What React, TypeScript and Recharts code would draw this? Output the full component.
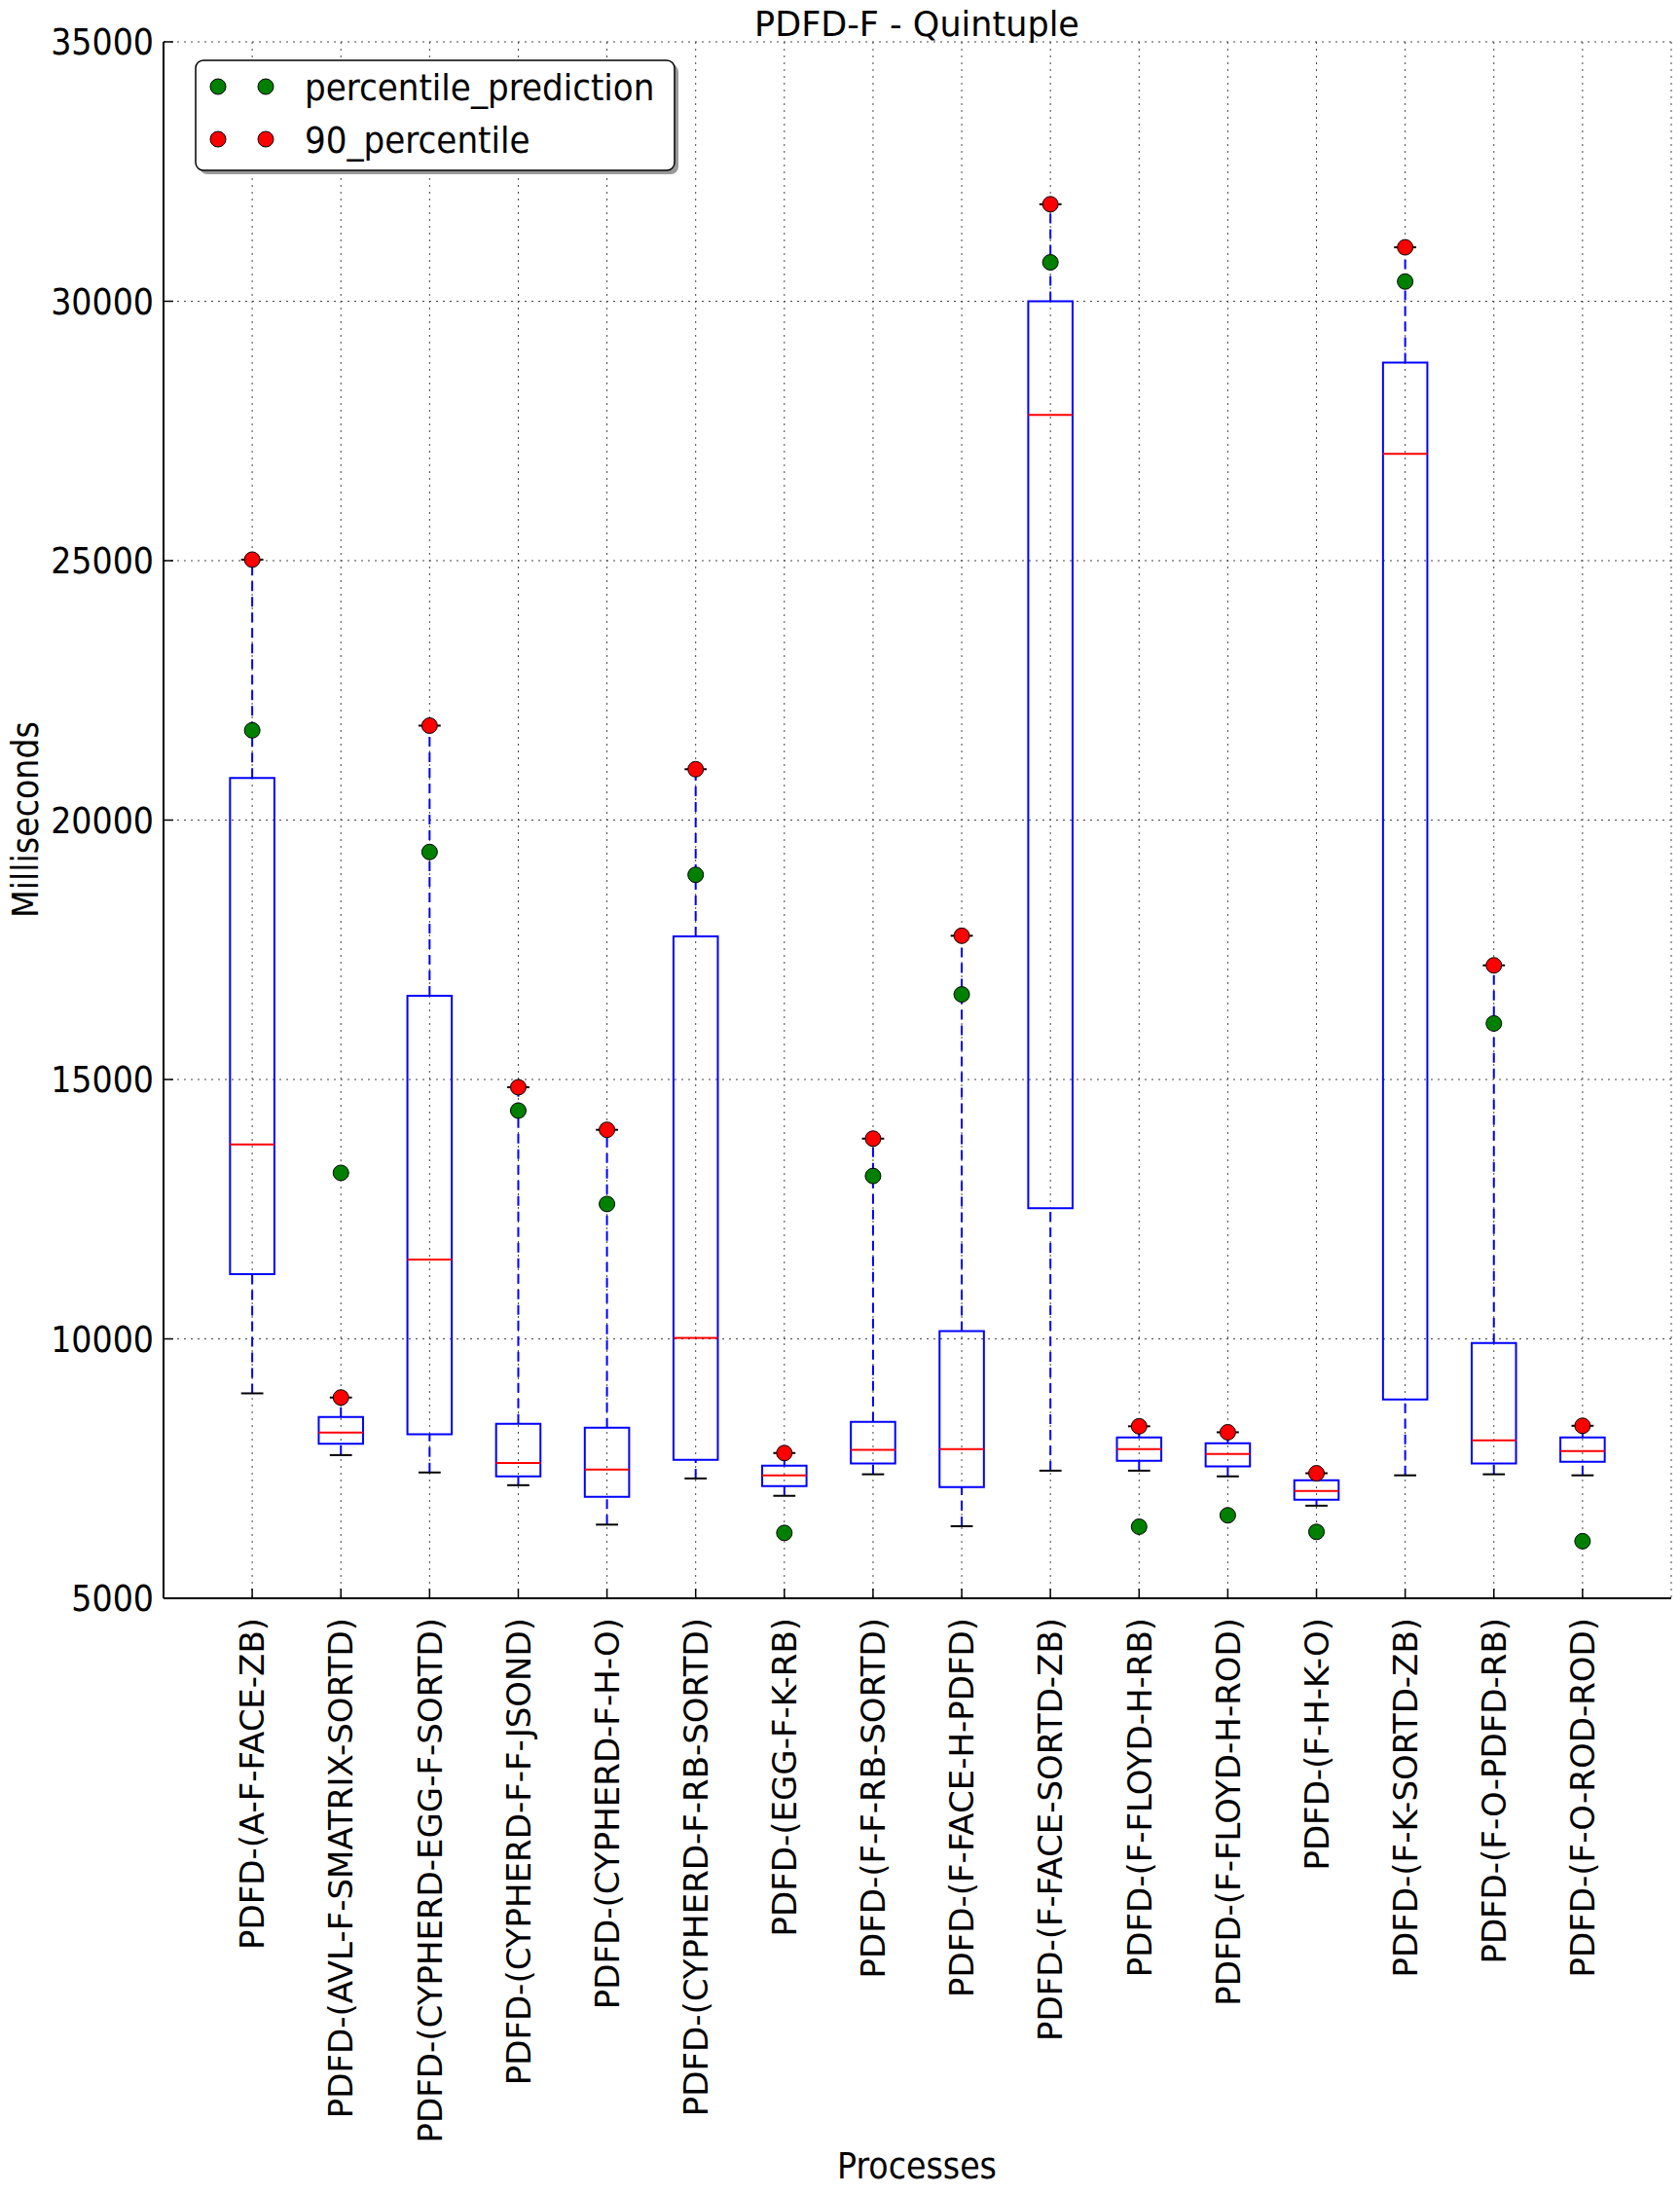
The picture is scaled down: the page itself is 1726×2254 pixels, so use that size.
import React from 'react'
import {
  ScatterChart,
  Scatter,
  XAxis,
  YAxis,
  CartesianGrid,
  ReferenceArea,
  ReferenceLine,
} from 'recharts'

const categories = [
  'PDFD-(A-F-FACE-ZB)',
  'PDFD-(AVL-F-SMATRIX-SORTD)',
  'PDFD-(CYPHERD-EGG-F-SORTD)',
  'PDFD-(CYPHERD-F-F-JSOND)',
  'PDFD-(CYPHERD-F-H-O)',
  'PDFD-(CYPHERD-F-RB-SORTD)',
  'PDFD-(EGG-F-K-RB)',
  'PDFD-(F-F-RB-SORTD)',
  'PDFD-(F-FACE-H-PDFD)',
  'PDFD-(F-FACE-SORTD-ZB)',
  'PDFD-(F-FLOYD-H-RB)',
  'PDFD-(F-FLOYD-H-ROD)',
  'PDFD-(F-H-K-O)',
  'PDFD-(F-K-SORTD-ZB)',
  'PDFD-(F-O-PDFD-RB)',
  'PDFD-(F-O-ROD-ROD)',
]

// box plot stats per process (ms)
const whiskerLow = [8950, 7760, 7425, 7180, 6420, 7310, 6975, 7390, 6390, 7460, 7460, 7350, 6785, 7370, 7390, 7370]
const q1 = [11250, 7980, 8160, 7350, 6955, 7670, 7160, 7600, 7145, 12520, 7650, 7540, 6900, 8830, 7600, 7630]
const median = [13750, 8195, 11530, 7610, 7480, 10020, 7370, 7860, 7875, 27810, 7875, 7780, 7070, 27060, 8045, 7840]
const q3 = [20810, 8495, 16615, 8365, 8290, 17760, 7555, 8400, 10150, 30000, 8100, 7990, 7275, 28820, 9920, 8100]
const whiskerHigh = [25020, 8870, 21820, 14850, 14030, 20980, 7800, 13860, 17770, 31870, 8315, 8200, 7410, 31040, 17200, 8325]

const percentilePrediction = [21730, 13200, 19385, 14400, 12600, 18945, 6260, 13140, 16640, 30750, 6380, 6600, 6280, 30380, 16080, 6100]
const percentile90 = [25020, 8870, 21820, 14850, 14030, 20980, 7800, 13860, 17770, 31870, 8315, 8200, 7410, 31040, 17200, 8325]

const yTicks = [5000, 10000, 15000, 20000, 25000, 30000, 35000]
const xTicks = categories.map((_, i) => i + 1)

const series = [
  { name: 'percentile_prediction', values: percentilePrediction, color: '#008000' },
  { name: '90_percentile', values: percentile90, color: '#ff0000' },
]

const W = 1726
const H = 2254
const condensed = "'DejaVu Sans Condensed', 'DejaVu Sans', sans-serif"
const blue = '#0000ff'

const Dot = (color: string) => (props: any) => (
  <circle cx={props.cx} cy={props.cy} r={8} fill={color} stroke="#000" strokeWidth={1} />
)

const LeftTick = ({ x, y, payload }: any) => (
  <g>
    <line x1={x} y1={y} x2={x + 10} y2={y} stroke="#000" strokeWidth={1.5} />
    <text x={x - 10} y={y} dy="0.36em" textAnchor="end" fontSize={37} fontFamily={condensed} style={{ fontStretch: 'condensed' }} fill="#000">
      {payload.value}
    </text>
  </g>
)

const RightTick = ({ x, y }: any) => (
  <line x1={x} y1={y} x2={x - 10} y2={y} stroke="#000" strokeWidth={1.5} />
)

const BottomTick = ({ x, y, payload }: any) => (
  <g>
    <line x1={x} y1={y} x2={x} y2={y - 10} stroke="#000" strokeWidth={1.5} />
    <text
      x={x}
      y={y + 20}
      dy="0.36em"
      textAnchor="end"
      transform={`rotate(-90 ${x} ${y + 20})`}
      fontSize={34}
      fontFamily="'DejaVu Sans', sans-serif"
      fill="#000"
    >
      {categories[payload.value - 1]}
    </text>
  </g>
)

const TopTick = ({ x, y }: any) => (
  <line x1={x} y1={y} x2={x} y2={y + 10} stroke="#000" strokeWidth={1.5} />
)

export default function App() {
  return (
    <div style={{ position: 'absolute', left: 0, top: 0, width: W, height: H, background: '#fff' }}>
      <ScatterChart width={W} height={H} margin={{ top: 43, right: 9, bottom: 0, left: 0 }}>
        <CartesianGrid strokeDasharray="2 5" stroke="#444" strokeWidth={1} />
        <XAxis
          dataKey="x"
          type="number"
          domain={[0, 17]}
          ticks={xTicks}
          interval={0}
          height={612}
          tickSize={0}
          tickMargin={0}
          tick={<BottomTick />}
          axisLine={{ stroke: '#000', strokeWidth: 2 }}
          tickLine={false}
        />
        <XAxis
          xAxisId="top"
          orientation="top"
          dataKey="x"
          type="number"
          domain={[0, 17]}
          ticks={xTicks}
          interval={0}
          height={0}
          tickSize={0}
          tickMargin={0}
          tick={<TopTick />}
          axisLine={{ stroke: '#000', strokeWidth: 2 }}
          tickLine={false}
        />
        <YAxis
          dataKey="y"
          type="number"
          domain={[5000, 35000]}
          ticks={yTicks}
          interval={0}
          width={168}
          tickSize={0}
          tickMargin={0}
          tick={<LeftTick />}
          axisLine={{ stroke: '#000', strokeWidth: 2 }}
          tickLine={false}
        />
        <YAxis
          yAxisId="right"
          orientation="right"
          dataKey="y"
          type="number"
          domain={[5000, 35000]}
          ticks={yTicks}
          interval={0}
          width={0}
          tickSize={0}
          tickMargin={0}
          tick={<RightTick />}
          axisLine={{ stroke: '#000', strokeWidth: 2 }}
          tickLine={false}
        />

        {categories.map((c, i) => {
          const x = i + 1
          return (
            <React.Fragment key={c}>
              <ReferenceLine
                segment={[{ x, y: q3[i] }, { x, y: whiskerHigh[i] }]}
                stroke={blue}
                strokeWidth={2}
                strokeDasharray="10 6"
              />
              <ReferenceLine
                segment={[{ x, y: whiskerLow[i] }, { x, y: q1[i] }]}
                stroke={blue}
                strokeWidth={2}
                strokeDasharray="10 6"
              />
              <ReferenceLine
                segment={[{ x: x - 0.125, y: whiskerHigh[i] }, { x: x + 0.125, y: whiskerHigh[i] }]}
                stroke="#000"
                strokeWidth={2}
              />
              <ReferenceLine
                segment={[{ x: x - 0.125, y: whiskerLow[i] }, { x: x + 0.125, y: whiskerLow[i] }]}
                stroke="#000"
                strokeWidth={2}
              />
              <ReferenceArea
                x1={x - 0.25}
                x2={x + 0.25}
                y1={q1[i]}
                y2={q3[i]}
                fill="none"
                fillOpacity={0}
                stroke={blue}
                strokeWidth={2}
                strokeOpacity={1}
              />
              <ReferenceLine
                segment={[{ x: x - 0.25, y: median[i] }, { x: x + 0.25, y: median[i] }]}
                stroke="#ff0000"
                strokeWidth={2}
              />
            </React.Fragment>
          )
        })}

        {series.map((s) => (
          <Scatter
            key={s.name}
            name={s.name}
            data={s.values.map((v, i) => ({ x: i + 1, y: v }))}
            shape={Dot(s.color)}
            isAnimationActive={false}
          />
        ))}
      </ScatterChart>

      <svg width={W} height={H} style={{ position: 'absolute', left: 0, top: 0, pointerEvents: 'none' }}>
        <text x={942} y={37} textAnchor="middle" fontSize={35} fontFamily="'DejaVu Sans', sans-serif" fill="#000">
          PDFD-F - Quintuple
        </text>
        <text
          x={26}
          y={842}
          dy="0.36em"
          textAnchor="middle"
          transform="rotate(-90 26 842)"
          fontSize={37}
          fontFamily={condensed}
          style={{ fontStretch: 'condensed' }}
          fill="#000"
        >
          Milliseconds
        </text>
        <text x={942} y={2238} textAnchor="middle" fontSize={37} fontFamily={condensed} style={{ fontStretch: 'condensed' }} fill="#000">
          Processes
        </text>

        {/* legend */}
        <rect x={205} y={66} width={492} height={113} rx={8} fill="#999" />
        <rect x={201} y={62} width={492} height={113} rx={8} fill="#fff" stroke="#000" strokeWidth={1.5} />
        {series.map((s, k) => {
          const cy = 89 + k * 54
          return (
            <g key={s.name}>
              <circle cx={224} cy={cy} r={8} fill={s.color} stroke="#000" strokeWidth={1} />
              <circle cx={273} cy={cy} r={8} fill={s.color} stroke="#000" strokeWidth={1} />
              <text x={313} y={cy} dy="0.36em" fontSize={38} fontFamily={condensed} style={{ fontStretch: 'condensed' }} fill="#000">
                {s.name}
              </text>
            </g>
          )
        })}
      </svg>
    </div>
  )
}
